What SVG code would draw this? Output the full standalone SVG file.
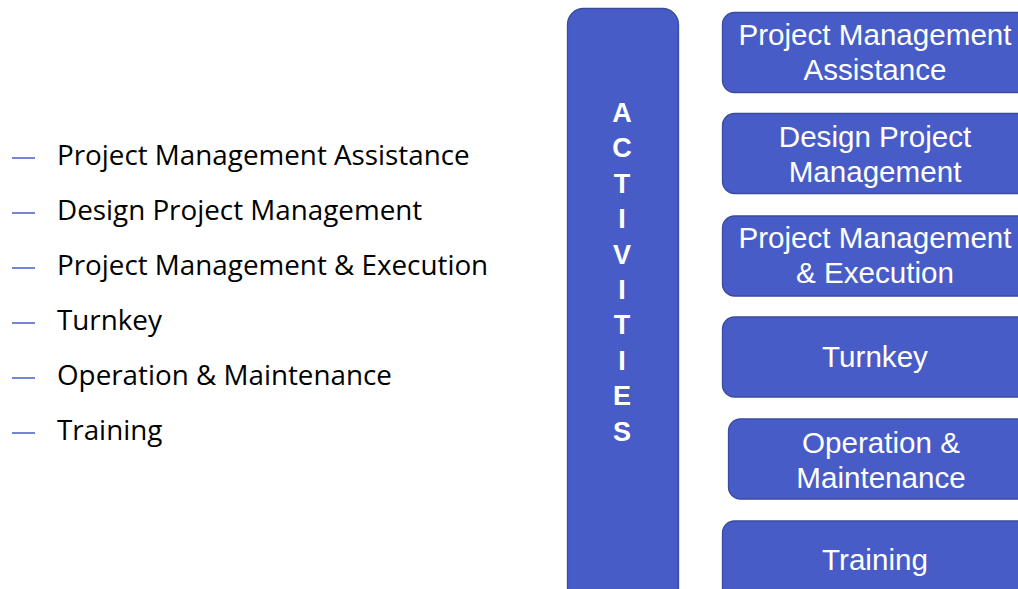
<svg xmlns="http://www.w3.org/2000/svg" width="1018" height="589" viewBox="0 0 1018 589">
<style>
.box{fill:#485CC7;stroke:#3A4B9E;stroke-width:1.3}
.bt{font-family:"Liberation Sans",Arial,sans-serif;font-size:29.6px;fill:#fff;text-anchor:middle}
.vt{font-family:"Liberation Sans",Arial,sans-serif;font-size:27px;font-weight:bold;fill:#fff;text-anchor:middle}
.lt{font-family:"Open Sans","Noto Sans",sans-serif;font-size:27.8px;fill:#000}
.dash{stroke:#485CC7;stroke-width:1.5}
</style>
<rect width="1018" height="589" fill="#fff"/>
<g id="list">
<line class="dash" x1="12" y1="158" x2="35" y2="158"/>
<line class="dash" x1="12" y1="213" x2="35" y2="213"/>
<line class="dash" x1="12" y1="268" x2="35" y2="268"/>
<line class="dash" x1="12" y1="323" x2="35" y2="323"/>
<line class="dash" x1="12" y1="378" x2="35" y2="378"/>
<line class="dash" x1="12" y1="433" x2="35" y2="433"/>
<text class="lt" x="57" y="165">Project Management Assistance</text>
<text class="lt" x="57" y="220">Design Project Management</text>
<text class="lt" x="57" y="275">Project Management &amp; Execution</text>
<text class="lt" x="57" y="330">Turnkey</text>
<text class="lt" x="57" y="385">Operation &amp; Maintenance</text>
<text class="lt" x="57" y="440">Training</text>
</g>
<g id="activities">
<rect class="box" x="567.5" y="8.5" width="111" height="600" rx="16"/>
<text class="vt" x="622" y="122">A</text>
<text class="vt" x="622" y="157.4">C</text>
<text class="vt" x="622" y="192.8">T</text>
<text class="vt" x="622" y="228.2">I</text>
<text class="vt" x="622" y="263.6">V</text>
<text class="vt" x="622" y="299">I</text>
<text class="vt" x="622" y="334.4">T</text>
<text class="vt" x="622" y="369.8">I</text>
<text class="vt" x="622" y="405.2">E</text>
<text class="vt" x="622" y="440.6">S</text>
</g>
<g id="n1">
<rect class="box" x="722.5" y="12.5" width="320" height="80" rx="12"/>
<text class="bt" x="875" y="45">Project Management</text>
<text class="bt" x="875" y="80">Assistance</text>
</g>
<g id="n2">
<rect class="box" x="722.5" y="113.5" width="320" height="80" rx="12"/>
<text class="bt" x="875" y="147">Design Project</text>
<text class="bt" x="875" y="182">Management</text>
</g>
<g id="n3">
<rect class="box" x="722.5" y="216" width="320" height="80" rx="12"/>
<text class="bt" x="875" y="248">Project Management</text>
<text class="bt" x="875" y="283">&amp; Execution</text>
</g>
<g id="n4">
<rect class="box" x="722.5" y="317" width="320" height="80" rx="12"/>
<text class="bt" x="875" y="367">Turnkey</text>
</g>
<g id="n5">
<rect class="box" x="728.5" y="419" width="320" height="80" rx="12"/>
<text class="bt" x="881" y="453">Operation &amp;</text>
<text class="bt" x="881" y="488">Maintenance</text>
</g>
<g id="n6">
<rect class="box" x="722.5" y="521" width="320" height="80" rx="12"/>
<text class="bt" x="875" y="570">Training</text>
</g>
<g id="connectors"/>
</svg>
